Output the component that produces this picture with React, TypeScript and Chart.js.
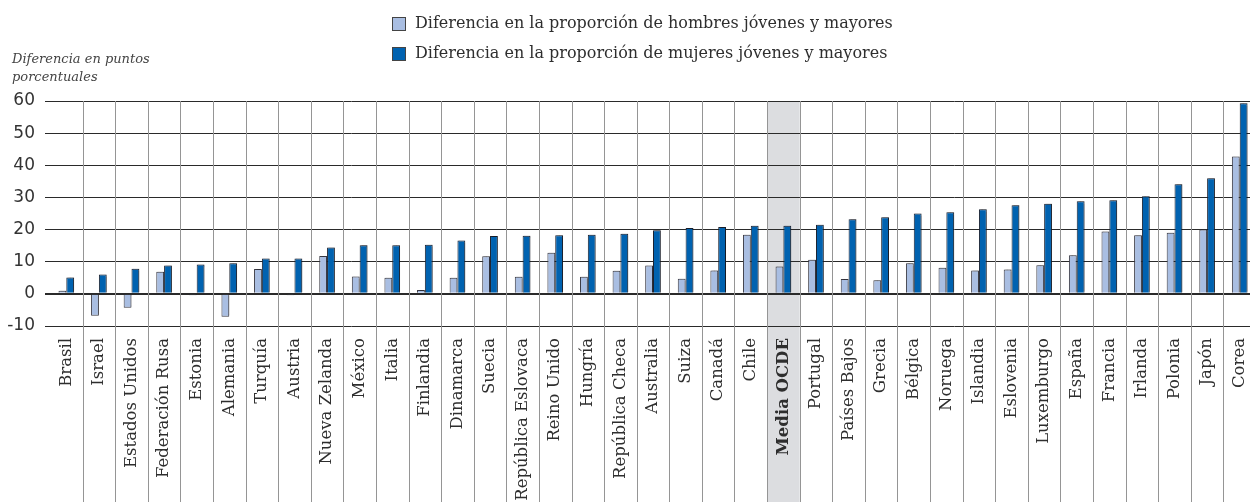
import React, { useEffect, useRef } from "react";
import { Chart, registerables } from "chart.js";

Chart.register(...registerables);

const categories = [
  "Brasil", "Israel", "Estados Unidos", "Federación Rusa", "Estonia", "Alemania",
  "Turquía", "Austria", "Nueva Zelanda", "México", "Italia", "Finlandia",
  "Dinamarca", "Suecia", "República Eslovaca", "Reino Unido", "Hungría",
  "República Checa", "Australia", "Suiza", "Canadá", "Chile", "Media OCDE",
  "Portugal", "Países Bajos", "Grecia", "Bélgica", "Noruega", "Islandia",
  "Eslovenia", "Luxemburgo", "España", "Francia", "Irlanda", "Polonia",
  "Japón", "Corea",
];

const menValues = [
  1.0, -6.8, -4.3, 6.9, -0.4, -7.1, 7.7, -0.4, 11.8, 5.4, 5.0, 1.2,
  5.0, 11.7, 5.3, 12.8, 5.3, 7.2, 8.8, 4.7, 7.3, 18.4, 8.5,
  10.6, 4.6, 4.2, 9.5, 8.1, 7.3, 7.6, 8.9, 12.0, 19.4, 18.2, 19.0,
  20.0, 42.7,
];

const womenValues = [
  5.1, 6.0, 7.8, 8.8, 9.1, 9.5, 11.0, 11.0, 14.4, 15.1, 15.1, 15.3,
  16.6, 18.0, 18.1, 18.2, 18.4, 18.7, 19.8, 20.5, 20.8, 21.2, 21.2,
  21.5, 23.2, 23.8, 25.0, 25.4, 26.3, 27.6, 28.0, 28.8, 29.1, 30.4, 34.1,
  36.0, 59.3,
];

const seriesLabels = [
  "Diferencia en la proporción de hombres jóvenes y mayores",
  "Diferencia en la proporción de mujeres jóvenes y mayores",
];

const axisTitleLines = ["Diferencia en puntos", "porcentuales"];
const highlightCategory = "Media OCDE";
const yMin = -10;
const yMax = 60;
const yStep = 10;

const SERIF = "'DejaVu Serif', serif";
const SANS = "'DejaVu Sans', sans-serif";

const bandPlugin = {
  id: "bandPlugin",
  beforeDraw(chart: any) {
    const x = chart.scales.x;
    const idx = categories.indexOf(highlightCategory);
    if (idx < 0) return;
    const half = (x.getPixelForValue(1) - x.getPixelForValue(0)) / 2;
    const cx = x.getPixelForValue(idx);
    const ctx = chart.ctx;
    ctx.save();
    ctx.fillStyle = "#dcdde0";
    ctx.fillRect(cx - half, chart.chartArea.top, half * 2, chart.height - chart.chartArea.top);
    ctx.restore();
  },
};

const vLinesPlugin = {
  id: "vLinesPlugin",
  beforeDatasetsDraw(chart: any) {
    const x = chart.scales.x;
    const ctx = chart.ctx;
    const half = (x.getPixelForValue(1) - x.getPixelForValue(0)) / 2;
    ctx.save();
    ctx.strokeStyle = "#959595";
    ctx.lineWidth = 1;
    for (let i = 1; i < categories.length; i++) {
      const px = Math.round(x.getPixelForValue(i) - half) + 0.5;
      ctx.beginPath();
      ctx.moveTo(px, chart.chartArea.top);
      ctx.lineTo(px, chart.height);
      ctx.stroke();
    }
    ctx.restore();
  },
  beforeDatasetDraw(chart: any) {
    const ctx = chart.ctx;
    ctx.save();
    ctx.shadowColor = "rgba(0,0,0,0.22)";
    ctx.shadowOffsetX = 1.5;
    ctx.shadowOffsetY = -1;
    ctx.shadowBlur = 1;
  },
  afterDatasetDraw(chart: any) {
    chart.ctx.restore();
  },
};

const legendTitlePlugin = {
  id: "legendTitlePlugin",
  afterDraw(chart: any) {
    const ctx = chart.ctx;
    ctx.save();
    ctx.font = `16px ${SERIF}`;
    ctx.textBaseline = "middle";
    ctx.textAlign = "left";
    chart.data.datasets.forEach((ds: any, i: number) => {
      const top = 17 + i * 30;
      ctx.fillStyle = ds.backgroundColor;
      ctx.fillRect(392, top, 14, 14);
      ctx.strokeStyle = "#444";
      ctx.lineWidth = 1;
      ctx.strokeRect(392.5, top + 0.5, 13, 13);
      ctx.fillStyle = "#2e2e2e";
      ctx.fillText(ds.label, 415, top + 7);
    });
    ctx.font = `italic 13px ${SERIF}`;
    ctx.fillStyle = "#444";
    ctx.textBaseline = "alphabetic";
    axisTitleLines.forEach((t, i) => ctx.fillText(t, 12, 63 + i * 18));
    ctx.restore();
  },
};

export default function App() {
  const ref = useRef<HTMLCanvasElement | null>(null);

  useEffect(() => {
    if (!ref.current) return;
    const chart = new Chart(ref.current, {
      type: "bar",
      data: {
        labels: categories,
        datasets: [
          {
            label: seriesLabels[0],
            data: menValues,
            backgroundColor: "#a9bee2",
            borderColor: "#3a3a44",
            borderWidth: 1,
            categoryPercentage: 0.48,
            barPercentage: 1,
          },
          {
            label: seriesLabels[1],
            data: womenValues,
            backgroundColor: "#0062b0",
            borderColor: "#1c2230",
            borderWidth: 1,
            categoryPercentage: 0.48,
            barPercentage: 1,
          },
        ],
      },
      options: {
        responsive: false,
        animation: false,
        devicePixelRatio: 1,
        layout: { padding: { top: 101, right: 0, left: 0, bottom: 0 } },
        plugins: {
          legend: { display: false },
          title: { display: false },
          tooltip: { enabled: false },
        },
        scales: {
          x: {
            grid: { display: false, drawTicks: false },
            border: { display: false },
            ticks: {
              autoSkip: false,
              maxRotation: 90,
              minRotation: 90,
              padding: 12,
              color: "#2e2e2e",
              font: (c: any) => ({
                family: SERIF,
                size: 16.5,
                weight: categories[c.index] === highlightCategory ? "bold" : "normal",
              }),
            },
            afterFit: (s: any) => {
              s.height = 176;
              s.paddingLeft = 0;
              s.paddingRight = 0;
            },
          },
          y: {
            min: yMin,
            max: yMax,
            ticks: {
              stepSize: yStep,
              padding: 10,
              color: "#333",
              font: { family: SANS, size: 17 },
            },
            grid: {
              color: "#2a2a2a",
              lineWidth: (c: any) => (c.tick && c.tick.value === 0 ? 2 : 1),
              tickLength: 5,
            },
            border: { display: false },
            afterFit: (s: any) => {
              s.width = 50;
            },
          },
        },
      },
      plugins: [bandPlugin, vLinesPlugin, legendTitlePlugin],
    });
    return () => chart.destroy();
  }, []);

  return (
    <div
      style={{
        position: "fixed",
        left: 0,
        top: 0,
        width: 1250,
        height: 502,
        overflow: "hidden",
        background: "#fff",
      }}
    >
      <canvas ref={ref} width={1256} height={502} style={{ width: 1256, height: 502, display: "block" }} />
    </div>
  );
}
